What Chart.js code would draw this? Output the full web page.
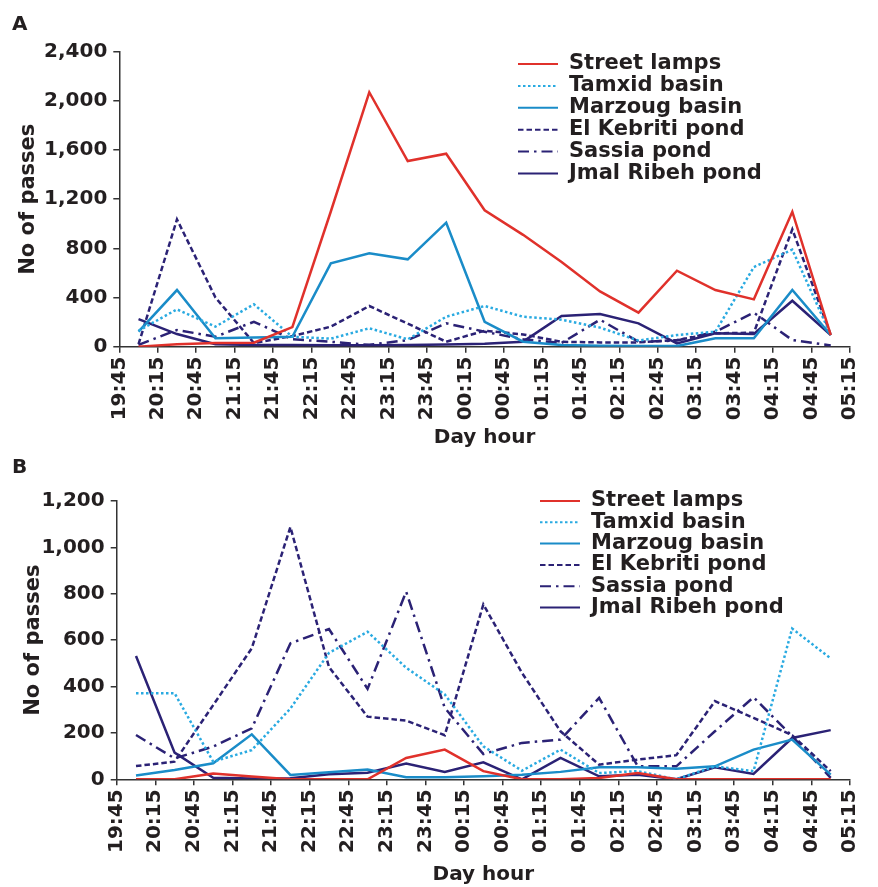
<!DOCTYPE html>
<html>
<head>
<meta charset="utf-8">
<script src="https://cdn.jsdelivr.net/npm/chart.js@4.4.1/dist/chart.umd.min.js"></script>
<style>
  html, body { margin: 0; padding: 0; background: #fff; }
  #wrap { position: relative; width: 878px; height: 887px; overflow: hidden; }
  canvas { position: absolute; left: 0; }
  #chartA { top: 0; }
  #chartB { top: 445px; }
</style>
</head>
<body>
<div id="wrap">
  <canvas id="chartA" width="878" height="455"></canvas>
  <canvas id="chartB" width="878" height="442"></canvas>
</div>
<script>
// sample times (every 30 min) and labelled ticks
const sampleTimes = ['20:00', '20:30', '21:00', '21:30', '22:00', '22:30', '23:00', '23:30',
  '00:00', '00:30', '01:00', '01:30', '02:00', '02:30', '03:00', '03:30', '04:00', '04:30', '05:00'];
const tickLabels = ['19:45', '20:15', '20:45', '21:15', '21:45', '22:15', '22:45', '23:15', '23:45',
  '00:15', '00:45', '01:15', '01:45', '02:15', '02:45', '03:15', '03:45', '04:15', '04:45', '05:15'];
const seriesNames = ['Street lamps', 'Tamxid basin', 'Marzoug basin', 'El Kebriti pond', 'Sassia pond', 'Jmal Ribeh pond'];

// panel A
const streetA  = [0, 20, 30, 33, 160, 1100, 2070, 1510, 1570, 1110, 910, 690, 450, 277, 618, 461, 385, 1098, 95];
const tamxidA  = [130, 304, 163, 345, 81, 65, 150, 60, 244, 331, 244, 220, 155, 50, 95, 122, 648, 790, 95];
const marzougA = [122, 461, 68, 75, 81, 678, 760, 711, 1009, 203, 41, 14, 8, 5, 5, 68, 68, 461, 95];
const kebritiA = [20, 1036, 400, 30, 87, 163, 331, 188, 40, 130, 100, 40, 35, 35, 54, 109, 114, 955, 95];
const sassiaA  = [15, 136, 81, 203, 60, 40, 15, 54, 190, 122, 60, 30, 220, 40, 50, 122, 277, 54, 10];
const jmalA    = [225, 103, 20, 14, 14, 12, 12, 14, 18, 25, 41, 250, 266, 190, 27, 109, 103, 374, 95];

// panel B
const streetB  = [0, 0, 25, 12, 0, 0, 0, 92, 128, 35, 0, 0, 6, 27, 0, 0, 0, 0, 0];
const tamxidB  = [371, 371, 76, 126, 305, 545, 636, 481, 366, 142, 37, 128, 27, 35, 0, 56, 35, 650, 521];
const marzougB = [16, 40, 69, 194, 19, 30, 42, 9, 9, 13, 20, 32, 52, 52, 46, 56, 128, 171, 20];
const kebritiB = [57, 76, 320, 565, 1088, 484, 270, 253, 190, 754, 459, 207, 63, 85, 104, 337, 265, 190, 35];
const sassiaB  = [191, 90, 141, 220, 586, 648, 390, 809, 308, 109, 157, 171, 351, 56, 56, 207, 354, 186, 6];
const jmalB    = [532, 115, 7, 3, 5, 22, 28, 68, 32, 73, 0, 92, 13, 20, 0, 52, 23, 178, 212];

const FONT = '"DejaVu Sans", sans-serif';
const INK = '#231f20';
const NAVY = '#2b2275';
const seriesColors = ['#e0312b', '#29aae1', '#1a8cc8', NAVY, NAVY, NAVY];
const seriesDashes = [[], [2.5, 2.5], [], [5.5, 3], [11, 5, 2.5, 5], []];

// minutes after 19:45 (crossing midnight)
function toMinutes(t) {
  const [h, m] = t.split(':').map(Number);
  return (h < 12 ? h + 24 : h) * 60 + m - (19 * 60 + 45);
}

function makeDatasets(valueLists) {
  return valueLists.map((vals, i) => ({
    label: seriesNames[i],
    data: vals.map((v, j) => ({ x: toMinutes(sampleTimes[j]), y: v })),
    borderColor: seriesColors[i],
    borderDash: seriesDashes[i],
    borderWidth: 2.5,
    borderJoinStyle: 'miter',
    pointRadius: 0,
    tension: 0,
    fill: false
  }));
}

// legend drawn inside the plot, plus the panel letter
const insetLegend = {
  id: 'insetLegend',
  afterDraw(chart, args, opts) {
    const ctx = chart.ctx;
    ctx.save();
    ctx.font = 'bold ' + opts.fontSize + 'px ' + FONT;
    ctx.textBaseline = 'middle';
    chart.data.datasets.forEach((ds, i) => {
      const y = opts.y + i * opts.rowGap;
      ctx.beginPath();
      ctx.setLineDash(ds.borderDash);
      ctx.strokeStyle = ds.borderColor;
      ctx.lineWidth = 2;
      ctx.moveTo(opts.x, y);
      ctx.lineTo(opts.x + opts.lineLen, y);
      ctx.stroke();
      ctx.setLineDash([]);
      ctx.fillStyle = INK;
      ctx.fillText(ds.label, opts.x + opts.lineLen + opts.gap, y);
    });
    ctx.font = 'bold 20px ' + FONT;
    ctx.textBaseline = 'alphabetic';
    ctx.fillText(opts.panel, 12, opts.panelY);
    ctx.restore();
  }
};

function makeChart(id, valueLists, cfg) {
  const axisGrid = { display: true, drawOnChartArea: false, drawTicks: true, tickLength: 6, color: '#333', lineWidth: 1.5 };
  const axisBorder = { display: true, color: '#333', width: 1.5 };
  const tickFont = { family: FONT, size: 20, weight: 'bold' };

  return new Chart(document.getElementById(id), {
    type: 'line',
    data: { datasets: makeDatasets(valueLists) },
    plugins: [insetLegend],
    options: {
      responsive: false,
      animation: false,
      layout: { padding: { left: 0, top: cfg.top, right: cfg.right, bottom: 0 } },
      plugins: {
        legend: { display: false },
        tooltip: { enabled: false },
        insetLegend: cfg.legend
      },
      scales: {
        x: {
          type: 'linear',
          min: 0,
          max: 570,
          grid: axisGrid,
          border: axisBorder,
          ticks: {
            stepSize: 30,
            autoSkip: false,
            minRotation: 90,
            maxRotation: 90,
            padding: 4,
            color: INK,
            font: tickFont,
            callback: v => tickLabels[Math.round(v / 30)]
          },
          title: {
            display: true,
            text: 'Day hour',
            color: INK,
            font: { family: FONT, size: 20, weight: 'bold' },
            padding: { top: 0, bottom: cfg.xTitlePad }
          },
          afterFit: s => { s.height = cfg.xHeight; }
        },
        y: {
          min: 0,
          max: cfg.yMax,
          grid: axisGrid,
          border: axisBorder,
          ticks: {
            stepSize: cfg.yStep,
            padding: 6,
            color: INK,
            font: tickFont,
            callback: v => v.toLocaleString('en-US')
          },
          title: {
            display: true,
            text: 'No of passes',
            color: INK,
            font: { family: FONT, size: 21, weight: 'bold' },
            padding: { top: cfg.yTitlePad, bottom: 0 }
          },
          afterFit: s => { s.width = cfg.yWidth; }
        }
      }
    }
  });
}

makeChart('chartA', [streetA, tamxidA, marzougA, kebritiA, sassiaA, jmalA], {
  yMax: 2400, yStep: 400,
  top: 51.7, right: 12.7, yWidth: 119.3, xHeight: 108.3,
  xTitlePad: 5.5, yTitlePad: 15.9,
  legend: { x: 518, y: 64, rowGap: 21.9, lineLen: 40, gap: 11, fontSize: 21, panel: 'A', panelY: 30 }
});

makeChart('chartB', [streetB, tamxidB, marzougB, kebritiB, sassiaB, jmalB], {
  yMax: 1200, yStep: 200,
  top: 56, right: 12, yWidth: 116.7, xHeight: 107.7,
  xTitlePad: 0, yTitlePad: 21.4,
  legend: { x: 540, y: 56, rowGap: 21.3, lineLen: 40, gap: 11, fontSize: 21, panel: 'B', panelY: 28 }
});
</script>
</body>
</html>
